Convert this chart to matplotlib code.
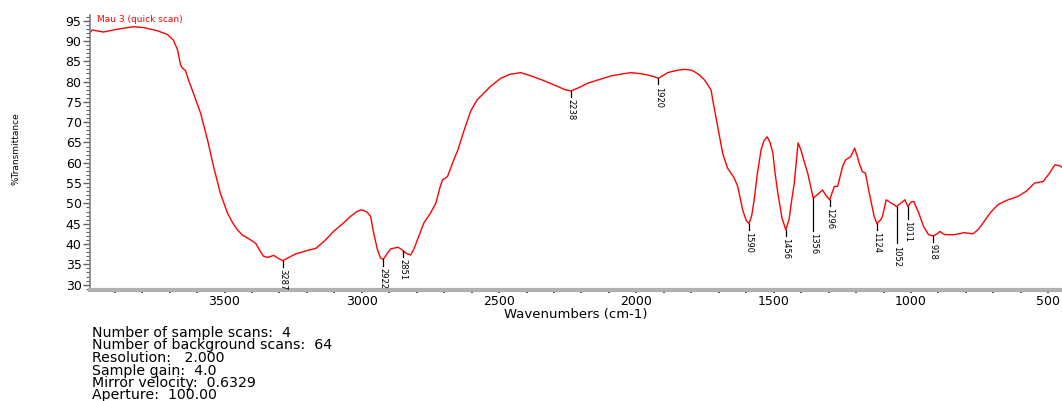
import numpy as np
import matplotlib
matplotlib.use('Agg')
import matplotlib.pyplot as plt

plt.rcParams['font.family'] = ['DejaVu Sans']

# Espectro (numero de onda, %T)
wavenumber = [3990, 3982, 3941, 3890, 3832, 3795, 3744, 3708, 3686, 3671, 3660, 3653,
              3642, 3631, 3613, 3587, 3562, 3540, 3515, 3489, 3470, 3453, 3435, 3416,
              3400, 3387, 3372, 3358, 3343, 3321, 3300, 3287, 3260, 3240, 3223, 3195,
              3168, 3135, 3103, 3070, 3041, 3020, 3004, 2995, 2980, 2968, 2957, 2943,
              2932, 2922, 2910, 2895, 2868, 2858, 2851, 2835, 2822, 2810, 2797, 2774,
              2750, 2730, 2715, 2706, 2688, 2665, 2650, 2625, 2603, 2580, 2549, 2530,
              2494, 2460, 2421, 2380, 2336, 2290, 2260, 2238, 2210, 2177, 2130, 2092,
              2050, 2019, 1980, 1958, 1935, 1920, 1905, 1886, 1850, 1825, 1800, 1788,
              1770, 1752, 1740, 1728, 1722, 1704, 1686, 1668, 1644, 1631, 1613, 1600,
              1590, 1580, 1571, 1560, 1546, 1535, 1524, 1513, 1503, 1495, 1485, 1470,
              1456, 1444, 1435, 1425, 1411, 1400, 1394, 1376, 1356, 1340, 1322, 1310,
              1296, 1279, 1267, 1249, 1238, 1220, 1205, 1195, 1189, 1177, 1166, 1152,
              1134, 1124, 1110, 1104, 1090, 1075, 1060, 1052, 1035, 1022, 1011, 1000,
              990, 972, 954, 936, 918, 905, 895, 877, 842, 806, 774, 755, 733, 710,
              683, 650, 611, 580, 550, 518, 495, 476, 460, 445]
transmittance = [92.0, 92.7, 92.2, 92.9, 93.5, 93.3, 92.5, 91.6, 90.2, 87.8, 84.1, 83.3,
                 82.7, 80.4, 77.1, 72.2, 65.7, 59.1, 52.5, 47.6, 45.2, 43.5, 42.2, 41.5,
                 40.8, 40.2, 38.5, 37.0, 36.7, 37.2, 36.3, 35.9, 36.9, 37.6, 37.9, 38.5,
                 38.9, 40.8, 43.1, 45.0, 46.8, 47.9, 48.4, 48.3, 47.8, 46.8, 42.8, 38.6,
                 36.6, 36.2, 37.4, 38.8, 39.2, 38.8, 38.4, 37.6, 37.3, 38.8, 41.1, 45.2,
                 47.6, 50.1, 54.0, 55.8, 56.6, 60.7, 63.2, 68.5, 72.8, 75.5, 77.6, 78.9,
                 80.8, 81.8, 82.2, 81.3, 80.2, 78.9, 78.0, 77.7, 78.5, 79.6, 80.6, 81.4,
                 81.9, 82.2, 81.9, 81.6, 81.2, 80.8, 81.4, 82.2, 82.8, 83.0, 82.8, 82.4,
                 81.6, 80.4, 79.2, 77.9, 75.5, 68.9, 62.4, 58.7, 56.3, 54.2, 48.4, 45.8,
                 45.0, 47.0, 50.9, 57.0, 63.2, 65.5, 66.4, 65.0, 62.4, 57.5, 52.6, 46.5,
                 43.5, 46.0, 50.5, 55.0, 64.9, 63.0, 61.5, 57.4, 51.3, 52.2, 53.3, 52.0,
                 50.9, 54.2, 54.2, 59.1, 60.7, 61.5, 63.6, 61.5, 60.0, 57.8, 57.5, 52.6,
                 46.8, 45.0, 46.0, 46.8, 50.9, 50.2, 49.6, 49.2, 50.2, 50.9, 49.2, 50.3,
                 50.5, 47.7, 44.3, 42.3, 42.0, 42.5, 43.1, 42.3, 42.3, 42.8, 42.5, 43.6,
                 45.6, 47.8, 49.7, 50.8, 51.7, 53.0, 55.0, 55.4, 57.5, 59.5, 59.3, 58.7]

# Picos marcados
peak_wn = [3287, 2922, 2851, 2238, 1920, 1590, 1456, 1356, 1296, 1124, 1052, 1011, 918]
peak_tail = [1.5, 1.5, 1.5, 1.5, 1.5, 1.5, 1.5, 8.0, 1.5, 1.5, 9.0, 3.0, 1.5]

info_lines = ['Number of sample scans:  4',
              'Number of background scans:  64',
              'Resolution:   2.000',
              'Sample gain:  4.0',
              'Mirror velocity:  0.6329',
              'Aperture:  100.00']

fig = plt.figure(figsize=(10.62, 4.01), dpi=100)
ax = fig.add_axes([0.0847, 0.277, 0.9153, 0.6857])

ax.plot(wavenumber, transmittance, color='red', lw=1.0)
ax.set_xlim(3990, 450)
ax.set_ylim(28.7, 96.4)

# Etiquetas de picos
wn_arr = np.array(wavenumber[::-1])
tr_arr = np.array(transmittance[::-1])
for wn, tail in zip(peak_wn, peak_tail):
    y0 = np.interp(wn, wn_arr, tr_arr)
    ax.plot([wn, wn], [y0, y0 - tail], color='black', lw=0.9)
    ax.text(wn, y0 - tail - 0.6, str(wn), rotation=-90, fontsize=6,
            ha='center', va='top', color='black')

ax.text(3965, 95.3, 'Mau 3 (quick scan)', color='red', fontsize=6.5, va='center')

for s in ['top', 'right']:
    ax.spines[s].set_visible(False)
ax.spines['left'].set_color('#808080')
ax.spines['left'].set_linewidth(1.2)
ax.spines['bottom'].set_color('#b0b0b0')
ax.spines['bottom'].set_linewidth(3)

ax.set_yticks(np.arange(30, 96, 5))
ax.set_yticks(np.arange(29, 97, 1), minor=True)
ax.set_xticks([3500, 3000, 2500, 2000, 1500, 1000, 500])
ax.set_xticks(np.arange(3900, 449, -100), minor=True)
ax.tick_params(axis='y', which='major', length=5, width=1, color='#606060', labelsize=9, pad=1)
ax.tick_params(axis='y', which='minor', length=3, width=0.8, color='#606060')
ax.tick_params(axis='x', which='both', length=2, width=1.2, color='#303030', labelsize=9, pad=2)

ax.set_xlabel('Wavenumbers (cm-1)', fontsize=9.5, labelpad=0)
fig.text(0.015, 0.63, '%Transmittance', rotation=90, fontsize=6.5, ha='center', va='center')

for i, line in enumerate(info_lines):
    fig.text(0.087, 1 - (333 + 12.5 * i) / 401, line, fontsize=10.2, va='center')

fig.savefig('out.png', dpi=100)
